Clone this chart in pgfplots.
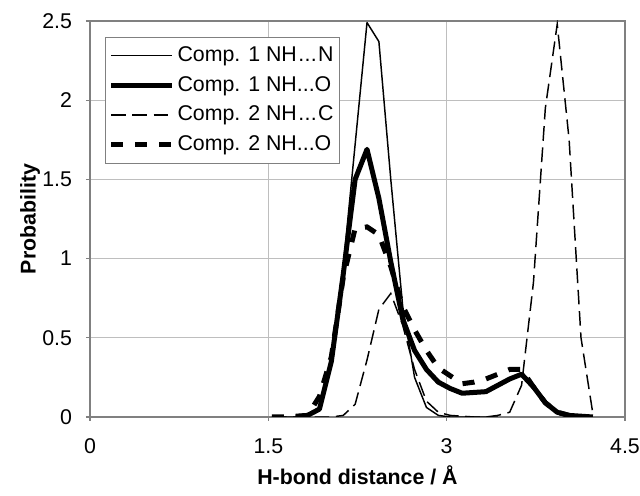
\documentclass[border=0pt]{standalone}
\usepackage{fontspec}
\setmainfont{Liberation Sans}
\usepackage{pgfplots}
\pgfplotsset{compat=1.18}
\definecolor{gridgray}{RGB}{190,190,190}
\definecolor{framegray}{RGB}{128,128,128}
\newcommand{\ellip}{\hbox to 1em{\hskip0.07em.\hfil.\hfil.\hskip0.07em}}

\begin{document}
\fontsize{16pt}{19pt}\selectfont
\begin{tikzpicture}
\useasboundingbox (-67.5pt,-59.25pt) rectangle (412.5pt,312.75pt);
\begin{axis}[
    scale only axis, width=401.25pt, height=297pt,
    at={(0pt,0pt)}, anchor=south west,
    xmin=0, xmax=4.5, ymin=0, ymax=2.5,
    xtick={0,1.5,3,4.5}, ytick={0,0.5,1,1.5,2,2.5},
    /pgf/number format/assume math mode=true,
    tick label style={font=\fontsize{16pt}{19pt}\selectfont},
    xticklabel style={yshift=-8pt},
    yticklabel style={xshift=-5pt},
    grid=major, grid style={gridgray, line width=0.8pt},
    axis line style={framegray, line width=1.2pt},
    tick style={framegray, line width=0.8pt},
    tick align=outside, major tick length=3pt,
    xtick pos=bottom, ytick pos=left,
    xlabel={H-bond distance / Å},
    ylabel={Probability},
    label style={font=\fontsize{16pt}{19pt}\selectfont\bfseries},
    xlabel style={at={(axis description cs:0.5,-0.1465)}, anchor=center},
    ylabel style={at={(axis description cs:-0.1121,0.5)}, anchor=center},
    legend cell align=left,
    legend style={at={(0.028,0.96)}, anchor=north west, draw=framegray,
        fill=white, font=\fontsize{16pt}{19pt}\selectfont,
        inner xsep=2.5pt, inner ysep=5pt, row sep=4.75pt},
    legend image code/.code={\draw[#1] (0pt,0pt) -- (46pt,0pt);},
]
% Comp. 1 NH...N
\addplot[black, line width=1.1pt, line join=round] coordinates {
    (1.63,0) (1.73,0) (1.83,0.01) (1.93,0.06) (2.03,0.33) (2.13,0.95)
    (2.23,1.72) (2.33,2.49) (2.43,2.37) (2.53,1.5) (2.63,0.7) (2.73,0.25)
    (2.83,0.06) (2.93,0.01) (3.03,0) (3.13,0) (3.23,0) (3.33,0) (3.43,0)
};
\addlegendentry{Comp. 1 NH\ellip N}
% Comp. 1 NH...O
\addplot[black, line width=3.75pt, line join=round] coordinates {
    (1.73,0) (1.83,0.01) (1.93,0.05) (2.03,0.35) (2.13,0.9) (2.23,1.5)
    (2.33,1.69) (2.43,1.38) (2.53,0.98) (2.63,0.62) (2.73,0.42) (2.83,0.3)
    (2.93,0.22) (3.03,0.18) (3.13,0.15) (3.23,0.155) (3.33,0.16) (3.43,0.2)
    (3.53,0.24) (3.63,0.27) (3.73,0.19) (3.83,0.09) (3.93,0.03) (4.03,0.01)
    (4.13,0.005) (4.23,0)
};
\addlegendentry{Comp. 1 NH...O}
% Comp. 2 NH...C
\addplot[black, line width=1.1pt, dash pattern=on 11pt off 5pt] coordinates {
    (1.53,0) (1.63,0) (1.73,0) (1.83,0) (1.93,0) (2.03,0) (2.13,0.01)
    (2.23,0.08) (2.33,0.36) (2.43,0.68) (2.53,0.78) (2.63,0.58) (2.73,0.3)
    (2.83,0.1) (2.93,0.03) (3.03,0.01) (3.13,0.005) (3.23,0) (3.33,0)
    (3.43,0.01) (3.53,0.03) (3.63,0.2) (3.73,0.85) (3.83,1.95) (3.93,2.48)
    (4.03,1.75) (4.13,0.5) (4.23,0.02)
};
\addlegendentry{Comp. 2 NH\ellip C}
% Comp. 2 NH...O
\addplot[black, line width=3.75pt, dash pattern=on 9pt off 9pt] coordinates {
    (1.53,0) (1.63,0) (1.73,0.005) (1.83,0.01) (1.93,0.13) (2.03,0.38)
    (2.13,0.88) (2.23,1.19) (2.33,1.2) (2.43,1.15) (2.53,0.95) (2.63,0.7)
    (2.73,0.55) (2.83,0.42) (2.93,0.31) (3.03,0.26) (3.13,0.21) (3.23,0.22)
    (3.33,0.24) (3.43,0.27) (3.53,0.3) (3.63,0.3) (3.73,0.19) (3.83,0.09)
    (3.93,0.03) (4.03,0.01) (4.13,0)
};
\addlegendentry{Comp. 2 NH...O}
\end{axis}
\end{tikzpicture}
\end{document}
